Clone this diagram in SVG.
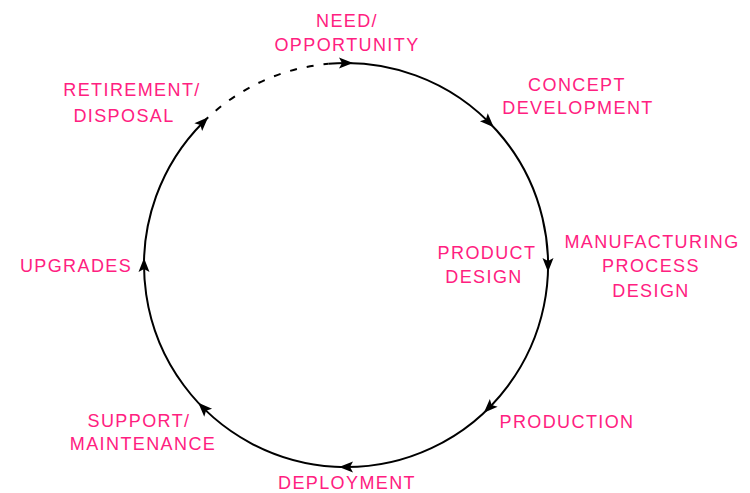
<svg xmlns="http://www.w3.org/2000/svg" width="750" height="493" viewBox="0 0 750 493">
<defs>
<style>
.lbl{font-family:"Liberation Sans",Arial,sans-serif;font-size:18px;fill:#ff2080;text-anchor:middle;letter-spacing:1.4px}
.arc{fill:none;stroke:#000;stroke-width:2}
</style>
<path id="ah" d="M7,0 L-7,-5.5 L-4,0 L-7,5.5 Z" fill="#000"/>
</defs>
<rect width="750" height="493" fill="#fff"/>
<g id="connectors">
<path class="arc" d="M328.4,63.8 A202,202 0 1 1 203.2,122.2"/>
<path class="arc" d="M203.2,122.2 A202,202 0 0 1 328.4,63.8" stroke-dasharray="7 10"/>
<use href="#ah" transform="translate(346,63) rotate(0)"/>
<use href="#ah" transform="translate(488.8,122.2) rotate(45)"/>
<use href="#ah" transform="translate(548,265) rotate(90)"/>
<use href="#ah" transform="translate(488.8,407.8) rotate(135)"/>
<use href="#ah" transform="translate(346,467) rotate(180)"/>
<use href="#ah" transform="translate(203.2,407.8) rotate(225)"/>
<use href="#ah" transform="translate(144,265) rotate(270)"/>
<use href="#ah" transform="translate(203.2,122.2) rotate(315)"/>
</g>
<g id="need"><text class="lbl" x="347" y="27">NEED/</text><text class="lbl" x="347" y="51">OPPORTUNITY</text></g>
<g id="concept"><text class="lbl" x="577" y="91">CONCEPT</text><text class="lbl" x="578" y="114">DEVELOPMENT</text></g>
<g id="product"><text class="lbl" x="487" y="259">PRODUCT</text><text class="lbl" x="484" y="283">DESIGN</text></g>
<g id="manufacturing"><text class="lbl" x="652" y="248">MANUFACTURING</text><text class="lbl" x="651" y="272">PROCESS</text><text class="lbl" x="651" y="297">DESIGN</text></g>
<g id="production"><text class="lbl" x="567" y="428">PRODUCTION</text></g>
<g id="deployment"><text class="lbl" x="347" y="489">DEPLOYMENT</text></g>
<g id="support"><text class="lbl" x="139" y="427">SUPPORT/</text><text class="lbl" x="143" y="450">MAINTENANCE</text></g>
<g id="upgrades"><text class="lbl" x="76" y="272">UPGRADES</text></g>
<g id="retirement"><text class="lbl" x="132" y="96">RETIREMENT/</text><text class="lbl" x="124" y="122">DISPOSAL</text></g>
</svg>
